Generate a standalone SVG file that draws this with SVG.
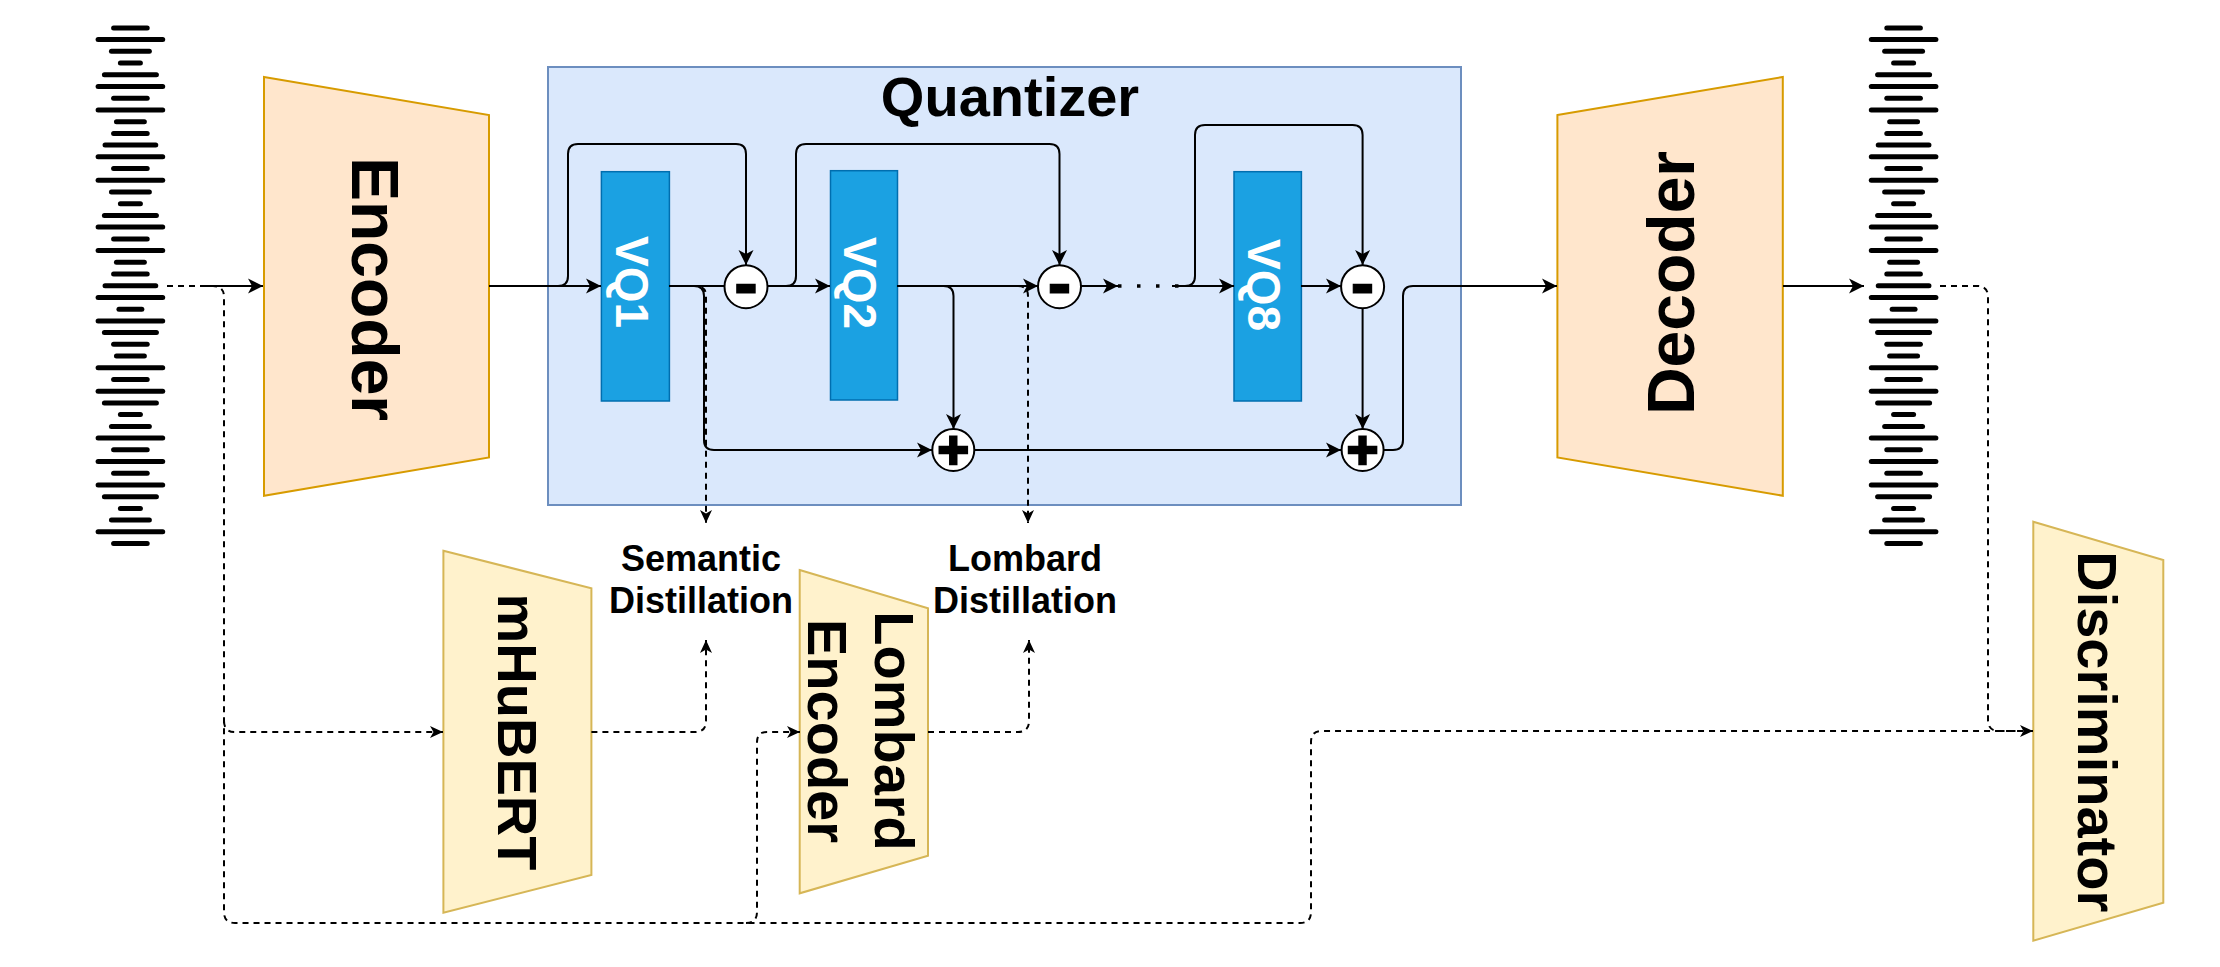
<svg xmlns="http://www.w3.org/2000/svg" width="2220" height="967" viewBox="0 0 2220 967">
<style>
.lbl{font-family:"Liberation Sans",Arial,Helvetica,sans-serif;font-weight:bold;fill:#000}
.c{fill:none;stroke:#000;stroke-width:2}
.d{fill:none;stroke:#000;stroke-width:2;stroke-dasharray:6 5}
.trap1{fill:#ffe6cc;stroke:#d79b00;stroke-width:2}
.trap2{fill:#fff2cc;stroke:#d6b656;stroke-width:2}
.vq{fill:#1ba1e2;stroke:#006eaf;stroke-width:1.5}
.op{fill:#fff;stroke:#000;stroke-width:2}
.sym{font-family:"Liberation Sans",Arial,sans-serif;font-weight:bold;fill:#000;stroke:#000}
.wave path{stroke:#000;stroke-width:5;stroke-linecap:round;fill:none}
</style>
<defs>
<marker id="arr" markerUnits="userSpaceOnUse" markerWidth="16" markerHeight="16" viewBox="0 0 16 16" refX="15" refY="8" orient="auto">
<path d="M0,0.5 L15,8 L0,15.5 L4,8 Z" fill="#000"/>
</marker>
<marker id="arrd" markerUnits="userSpaceOnUse" markerWidth="14" markerHeight="14" viewBox="0 0 14 14" refX="13" refY="7" orient="auto">
<path d="M0,1 L13,7 L0,13 L3.5,7 Z" fill="#000"/>
</marker>
<g id="bars" class="wave">
<path d="M-16.8 27.9h33.6"/><path d="M-32.3 39.6h64.6"/><path d="M-18.95 51.3h37.9"/><path d="M-10 63.1h20"/>
<path d="M-26 74.8h52"/><path d="M-32.3 86.5h64.6"/><path d="M-16.8 98.2h33.6"/><path d="M-32.3 109.9h64.6"/>
<path d="M-13.95 121.7h27.9"/><path d="M-16.8 133.4h33.6"/><path d="M-25.35 145.1h50.7"/><path d="M-32.3 156.8h64.6"/>
<path d="M-16.8 168.5h33.6"/><path d="M-32.3 180.3h64.6"/><path d="M-18.95 192h37.9"/><path d="M-10 203.7h20"/>
<path d="M-26 215.4h52"/><path d="M-32.3 227.1h64.6"/><path d="M-16.8 238.9h33.6"/><path d="M-32.3 250.6h64.6"/>
<path d="M-13.95 262.3h27.9"/><path d="M-16.8 274h33.6"/><path d="M-25.35 285.7h50.7"/><path d="M-32.3 297.4h64.6"/>
<path d="M-11.45 309.2h22.9"/><path d="M-32.3 320.9h64.6"/><path d="M-26 332.6h52"/><path d="M-16.8 344.3h33.6"/>
<path d="M-13.95 356h27.9"/><path d="M-32.3 367.8h64.6"/><path d="M-16.8 379.5h33.6"/><path d="M-32.3 391.2h64.6"/>
<path d="M-26 402.9h52"/><path d="M-10 414.6h20"/><path d="M-18.95 426.4h37.9"/><path d="M-32.3 438.1h64.6"/>
<path d="M-16.8 449.8h33.6"/><path d="M-32.3 461.5h64.6"/><path d="M-16.8 473.2h33.6"/><path d="M-32.3 485h64.6"/>
<path d="M-26 496.7h52"/><path d="M-10 508.4h20"/><path d="M-18.95 520.1h37.9"/><path d="M-32.3 531.8h64.6"/>
<path d="M-16.8 543.6h33.6"/>
</g>
</defs>
<rect width="2220" height="967" fill="#fff"/>

<g id="quantizer">
<rect x="548" y="67" width="913" height="438" fill="#dae8fc" stroke="#6c8ebf" stroke-width="2"/>
<text class="lbl" x="1010" y="116" font-size="56" text-anchor="middle">Quantizer</text>
</g>

<g id="wave-in"><use href="#bars" x="130.4" y="0"/></g>
<g id="wave-out"><use href="#bars" x="1903.6" y="0"/></g>

<g id="encoder">
<polygon class="trap1" points="264,77 489,115 489,457.5 264,495.7"/>
<text class="lbl" font-size="66" text-anchor="middle" dominant-baseline="central" transform="translate(375,289) rotate(90)">Encoder</text>
</g>
<g id="decoder">
<polygon class="trap1" points="1557.4,115 1782.8,77 1782.8,495.7 1557.4,457.5"/>
<text class="lbl" font-size="66" text-anchor="middle" dominant-baseline="central" transform="translate(1670.6,283) rotate(-90)">Decoder</text>
</g>
<g id="mhubert">
<polygon class="trap2" points="443.4,550.7 591.4,588.3 591.4,875 443.4,912.7"/>
<text class="lbl" font-size="56" text-anchor="middle" dominant-baseline="central" transform="translate(517,732) rotate(90)">mHuBERT</text>
</g>
<g id="lombard-encoder">
<polygon class="trap2" points="799.7,570 928,608.3 928,855.7 799.7,893.3"/>
<g transform="translate(861,731) rotate(90)">
<text class="lbl" font-size="56" text-anchor="middle" dominant-baseline="central" x="0" y="-33.5">Lombard</text>
<text class="lbl" font-size="56" text-anchor="middle" dominant-baseline="central" x="0" y="33.5">Encoder</text>
</g>
</g>
<g id="discriminator">
<polygon class="trap2" points="2033.3,521.7 2163.3,560 2163.3,902.7 2033.3,940.7"/>
<text class="lbl" font-size="56" text-anchor="middle" dominant-baseline="central" transform="translate(2097.5,731.7) rotate(90)">Discriminator</text>
</g>

<g id="vq1">
<rect class="vq" x="601.4" y="171.7" width="68" height="229.3"/>
<text class="lbl" font-size="46" style="fill:#fff" text-anchor="middle" dominant-baseline="central" transform="translate(632,282) rotate(90)">VQ1</text>
</g>
<g id="vq2">
<rect class="vq" x="830.5" y="170.7" width="67" height="229.3"/>
<text class="lbl" font-size="46" style="fill:#fff" text-anchor="middle" dominant-baseline="central" transform="translate(860,283) rotate(90)">VQ2</text>
</g>
<g id="vq8">
<rect class="vq" x="1234" y="171.7" width="67.4" height="229.3"/>
<text class="lbl" font-size="46" style="fill:#fff" text-anchor="middle" dominant-baseline="central" transform="translate(1264,285) rotate(90)">VQ8</text>
</g>

<g id="semantic-distillation">
<text class="lbl" font-size="36" text-anchor="middle" x="701" y="570.7">Semantic</text>
<text class="lbl" font-size="36" text-anchor="middle" x="701" y="613.3">Distillation</text>
</g>
<g id="lombard-distillation">
<text class="lbl" font-size="36" text-anchor="middle" x="1025" y="570.7">Lombard</text>
<text class="lbl" font-size="36" text-anchor="middle" x="1025" y="613.3">Distillation</text>
</g>

<g id="connectors">
<path class="c" d="M200,286 H263" marker-end="url(#arr)"/>
<path class="c" d="M489,286 H601" marker-end="url(#arr)"/>
<path class="c" d="M548,286 H558 Q568,286 568,276 V154 Q568,144 578,144 H736 Q746,144 746,154 V265" marker-end="url(#arr)"/>
<path class="c" d="M669,286 H724"/>
<path class="c" d="M669,286 H694 Q704,286 704,296 V440 Q704,450 714,450 H932" marker-end="url(#arr)"/>
<path class="c" d="M767,286 H830" marker-end="url(#arr)"/>
<path class="c" d="M786,286 Q796,286 796,276 V154 Q796,144 806,144 H1049.5 Q1059.5,144 1059.5,154 V265" marker-end="url(#arr)"/>
<path class="c" d="M897,286 H1038" marker-end="url(#arr)"/>
<path class="c" d="M897,286 H943.5 Q953.5,286 953.5,296 V429" marker-end="url(#arr)"/>
<path class="c" d="M1081,286 H1118" marker-end="url(#arr)"/>
<path d="M1118,286 H1180" fill="none" stroke="#000" stroke-width="3.5" stroke-dasharray="3.5 15.5"/>
<path class="c" d="M1172,286 H1234" marker-end="url(#arr)"/>
<path class="c" d="M1185,286 Q1195,286 1195,276 V135 Q1195,125 1205,125 H1352.6 Q1362.6,125 1362.6,135 V265" marker-end="url(#arr)"/>
<path class="c" d="M1301,286 H1341" marker-end="url(#arr)"/>
<path class="c" d="M1362.6,308 V429" marker-end="url(#arr)"/>
<path class="c" d="M975,450 H1341" marker-end="url(#arr)"/>
<path class="c" d="M1384,450 H1393 Q1403,450 1403,440 V296 Q1403,286 1413,286 H1557" marker-end="url(#arr)"/>
<path class="c" d="M1783,286 H1864" marker-end="url(#arr)"/>

<path class="d" d="M167,286 H213 Q224,286 224,297 V912 Q224,923 235,923 H1300 Q1311,923 1311,912 V742 Q1311,731 1322,731 H2033" marker-end="url(#arrd)"/>
<path class="d" d="M224,721 Q224,732 235,732 H443" marker-end="url(#arrd)"/>
<path class="d" d="M746,923 Q757,923 757,912 V742 Q757,732 767,732 H800" marker-end="url(#arrd)"/>
<path class="d" d="M1940,286 H1977 Q1988,286 1988,297 V720 Q1988,731 1999,731 H2020"/>
<path class="d" d="M669,286 H696 Q706,286 706,296 V523" marker-end="url(#arrd)"/>
<path class="d" d="M897,286 H1018 Q1028,286 1028,296 V523" marker-end="url(#arrd)"/>
<path class="d" d="M591.4,732 H695 Q706,732 706,721 V640" marker-end="url(#arrd)"/>
<path class="d" d="M928,732 H1018 Q1029,732 1029,721 V640" marker-end="url(#arrd)"/>
</g>

<g id="minus1">
<circle class="op" cx="746" cy="286.7" r="21.5"/>
<text class="sym" font-size="72" stroke-width="1.2" text-anchor="middle" x="746" y="306.9">-</text>
</g>
<g id="minus2">
<circle class="op" cx="1059.5" cy="286.7" r="21.5"/>
<text class="sym" font-size="72" stroke-width="1.2" text-anchor="middle" x="1059.5" y="306.9">-</text>
</g>
<g id="minus3">
<circle class="op" cx="1362.6" cy="286.7" r="21.5"/>
<text class="sym" font-size="72" stroke-width="1.2" text-anchor="middle" x="1362.6" y="306.9">-</text>
</g>
<g id="plus1">
<circle class="op" cx="953.3" cy="450" r="21"/>
<text class="sym" font-size="54" stroke-width="2.5" text-anchor="middle" x="953.3" y="468">+</text>
</g>
<g id="plus2">
<circle class="op" cx="1362.6" cy="450" r="21"/>
<text class="sym" font-size="54" stroke-width="2.5" text-anchor="middle" x="1362.6" y="468">+</text>
</g>
</svg>
